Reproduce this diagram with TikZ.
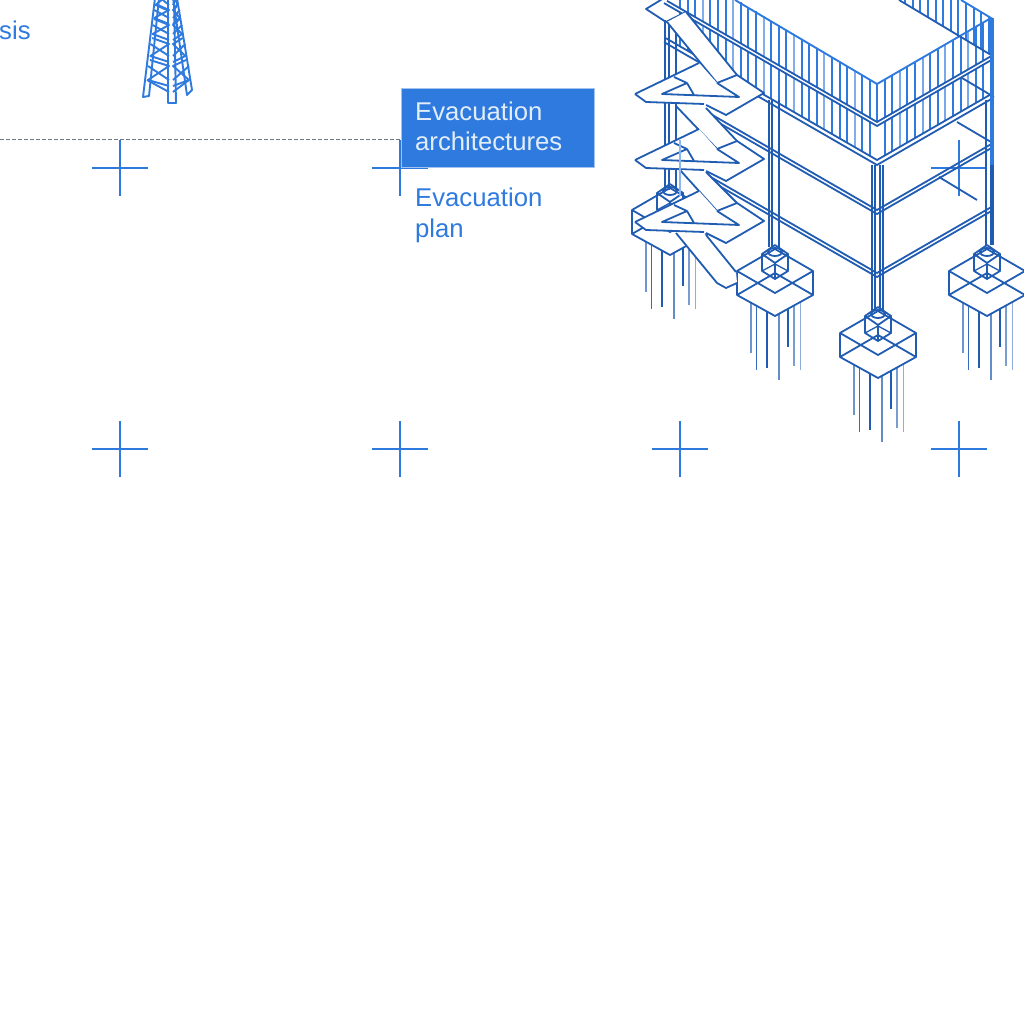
\documentclass[tikz,border=0pt]{standalone}
\usepackage{fontspec}
\setmainfont{Liberation Sans}
\definecolor{bluemain}{RGB}{46,122,222}
\definecolor{bluedark}{RGB}{32,92,178}
\definecolor{boxtext}{RGB}{226,237,250}
\definecolor{dashgrey}{RGB}{110,120,135}
\tikzset{
  crossline/.style={draw=bluemain,line width=2.4pt},
  hatchline/.style={draw=bluemain,line width=1.9pt},
  structline/.style={draw=bluedark,line width=1.8pt,line join=round},
  thinstruct/.style={draw=bluedark,line width=1.3pt,line join=round},
  pileline/.style={draw=bluedark,line width=1pt},
  towerline/.style={draw=bluemain,line width=1.9pt,line join=round},
  label/.style={text=bluemain,font=\fontsize{25.7}{31}\selectfont,anchor=base west,inner sep=0pt},
  boxlabel/.style={text=boxtext,font=\fontsize{25.7}{31}\selectfont,anchor=base west,inner sep=0pt},
  planbox/.style={fill=bluemain,draw=bluemain!45,line width=.6pt,inner sep=0pt,minimum width=193pt,minimum height=79.5pt,anchor=north west}
}
% footing: #1 centre x, #2 y of the left corner
\newcommand{\footingblock}[2]{%
  \begin{scope}[shift={(#1,#2)}]
    \foreach \dx/\ey/\sy/\op/\lw in {-24/82/31/.65/1.6,-19/99/34/.9/1,-8/97/40/1/1.2,4/109/43/.7/1.2,13/76/38/1/1.2,19/95/34/.6/1.8,25/99/31/.5/1}
      \draw[pileline,line width=\lw pt,opacity=\op] (\dx,\sy) -- (\dx,\ey);
    \draw[structline] (-38,0) -- (0,-22) -- (38,0) -- (0,22) -- cycle;
    \draw[structline] (-38,0) -- (-38,24) -- (0,45) -- (38,24) -- (38,0);
    \draw[structline] (-38,24) -- (0,2) -- (38,24);
    \draw[structline] (-13,-17) -- (0,-26) -- (13,-17) -- (0,-8) -- cycle;
    \draw[structline] (-13,-17) -- (-13,0) -- (0,8) -- (13,0) -- (13,-17);
    \draw[structline] (0,-8) -- (0,8);
    \draw[thinstruct] (-13,0) -- (0,-7) -- (13,0);
    \draw[structline] (0,-19) ellipse[x radius=7,y radius=4];
  \end{scope}}
% landing with turning triangle
\newcommand{\landing}[1]{%
  \begin{scope}[yshift=-#1pt]
    \fill[white] (635,94) -- (699,63) -- (717,83) -- (737,75) -- (764,93) -- (726,115) -- (706,105) -- (646,102) -- cycle;
    \draw[structline] (635,94) -- (699,63);
    \draw[structline] (717,83) -- (737,75) -- (764,93) -- (726,115) -- (706,105);
    \draw[structline] (635,94) -- (646,102) -- (704,104);
    \draw[structline] (717,83) -- (739,97) -- (662,94) -- (687,83) -- (694,95);
    \draw[structline] (674,77) -- (687,83);
  \end{scope}}
% flight of stairs between two landings, open at its upper end
\newcommand{\flightband}[8]{%
  \fill[white] (#1,#2) -- (#3,#4) -- (#5,#6) -- (#7,#8) -- cycle;
  \draw[structline] (#1,#2) -- (#7,#8);
  \draw[structline] (#3,#4) -- (#5,#6);}
\begin{document}
\begin{tikzpicture}[x=1pt,y=-1pt]
\useasboundingbox (0,0) rectangle (1024,1024);
\begin{scope}
\clip (0,0) rectangle (1024,1024);
% dashed guide and crosses
\draw[dashgrey,line width=.7pt,dash pattern=on 4pt off 2pt] (0,139.5) -- (400,139.5);
\foreach \cx in {120,400,680,959}
  \foreach \cy in {168,449}{
    \draw[crossline] (\cx-28,\cy) -- (\cx+28,\cy);
    \draw[crossline] (\cx,\cy-28) -- (\cx,\cy+28);
  }
% building: hatching
\foreach \hx [count=\hi] in {680,687.6,...,877}{
  \pgfmathsetmacro{\hop}{mod(\hi,4)==0?0.6:1}
  \pgfmathsetmacro{\ha}{84-(877-\hx)*.6}
  \pgfmathsetmacro{\hb}{122-(877-\hx)*.577}
  \pgfmathsetmacro{\hc}{126-(877-\hx)*.577}
  \pgfmathsetmacro{\hd}{160-(877-\hx)*.577}
  \draw[hatchline,opacity=\hop] (\hx,\ha) -- (\hx,\hb);
  \draw[hatchline,opacity=\hop] (\hx,\hc) -- (\hx,\hd);
}
\foreach \hx [count=\hi] in {884.6,892.2,...,990}{
  \pgfmathsetmacro{\hop}{mod(\hi,3)==0?0.65:1}
  \pgfmathsetmacro{\ha}{84-(\hx-877)*.58}
  \pgfmathsetmacro{\hb}{122-(\hx-877)*.58}
  \pgfmathsetmacro{\hc}{126-(\hx-877)*.58}
  \pgfmathsetmacro{\hd}{160-(\hx-877)*.58}
  \draw[hatchline,opacity=\hop] (\hx,\ha) -- (\hx,\hb);
  \draw[hatchline,opacity=\hop] (\hx,\hc) -- (\hx,\hd);
}
\foreach \hx in {905.2,912.8,...,990}{
  \pgfmathsetmacro{\ha}{18-(991-\hx)*.58}
  \pgfmathsetmacro{\hb}{55-(991-\hx)*.598}
  \draw[hatchline] (\hx,\ha) -- (\hx,\hb);
}
% parapet edges
\draw[hatchline] (735,0) -- (877,84) -- (991,18) -- (961,0);
\draw[structline] (899,0) -- (991,55);
\draw[hatchline] (877,84) -- (877,122);
% slabs
\foreach \sy/\sx in {122/667,126/664,160/666,165/664,210/706,214/702,273/706,277/702}{
  \pgfmathsetmacro{\sl}{\sy-(877-\sx)*.577}
  \pgfmathsetmacro{\sr}{\sy-116*.577}
  \draw[structline] (\sx,\sl) -- (877,\sy) -- (993,\sr);
}
% back edges
\draw[structline] (962,78) -- (994,97);
\draw[structline] (957,122) -- (991,142);
\draw[structline] (939,177) -- (977,200);
% columns
\foreach \cx in {665,669,676}
  \draw[structline] (\cx,20) -- (\cx,190);
\foreach \cx in {769,772,779}
  \draw[structline] (\cx,100) -- (\cx,247);
\foreach \cx in {872,875,880,883}
  \draw[structline,line width=1.4pt] (\cx,165) -- (\cx,311);
\draw[structline] (986,100) -- (986,245);
\draw[draw=bluemain,line width=3.4pt] (992,18) -- (992,165);
\draw[draw=bluedark,line width=3.4pt] (992,165) -- (992,245);
% footings
\footingblock{670}{210}
\footingblock{775}{271}
\footingblock{987}{271}
\footingblock{878}{333}
% stairs
\draw[structline] (664,-2) -- (646,9) -- (666,22) -- (686,12) -- (696,24);
\flightband{667}{22}{686}{12}{737}{75}{717}{83}
\landing{0}
\flightband{676}{106}{706}{108}{737}{141}{717}{149}
\landing{66}
\flightband{680}{170}{706}{172}{737}{203}{717}{211}
\landing{128}
\fill[white] (676,233) -- (706,235) -- (736,272) -- (737,283) -- (726,288) -- (717,283) -- cycle;
\draw[structline] (676,233) -- (717,283) -- (726,288) -- (737,283);
\draw[structline] (706,235) -- (736,272);
\draw[draw=bluemain!55,line width=1.2pt] (680,140) -- (680,196);
% tower
\draw[towerline] (155,-2) -- (143,97) -- (149,96) -- (159,-2);
\draw[towerline] (168,-2) -- (168,103) -- (176,103) -- (174,-2);
\draw[towerline] (177,-2) -- (192,90) -- (187,95) -- (173,-2);
\foreach \ty/\tn in {-12/5,4/18,19/34,38/56,60/80}{
  \pgfmathsetmacro{\lxa}{156-\ty*.1}
  \pgfmathsetmacro{\lxb}{156-\tn*.1}
  \pgfmathsetmacro{\rxa}{177+\ty*.15}
  \pgfmathsetmacro{\rxb}{177+\tn*.15}
  \draw[towerline] (\lxa,\ty) -- (169,\ty+6) -- (\lxb,\tn) -- (169,\tn+6);
  \draw[towerline] (\lxb,\ty+6) -- (169,\tn);
  \draw[towerline] (\rxa,\ty) -- (173,\ty+6) -- (\rxb,\tn) -- (173,\tn+6);
  \draw[towerline] (\rxb,\ty+6) -- (173,\tn);
}
\draw[towerline] (147,80) -- (169,92);
\draw[towerline] (189,80) -- (173,92);
% box and labels
\node[planbox] (box) at (400.5,88) {};
\node[label] (sis) at (-1,39.5) {sis};
\node[boxlabel] (boxa) at (415,120.5) {Evacuation};
\node[boxlabel] (boxb) at (415,150.5) {architectures};
\node[label] (plana) at (415,206.5) {Evacuation};
\node[label] (planb) at (415,237.5) {plan};
\end{scope}
\end{tikzpicture}
\end{document}
